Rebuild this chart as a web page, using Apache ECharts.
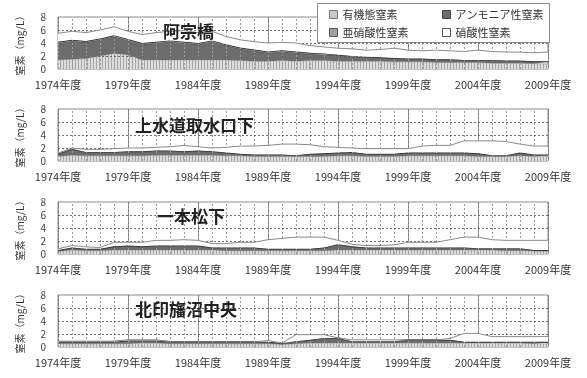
<!DOCTYPE html>
<html><head><meta charset="utf-8">
<script src="https://cdn.jsdelivr.net/npm/echarts@6/dist/echarts.min.js"></script>
<style>html,body{margin:0;padding:0;background:#fff}#c{width:587px;height:378px}</style>
</head><body><div id="c"></div>
<script>
var years = [];
for (var y = 1974; y <= 2009; y++) years.push(y + '年度');
var seriesNames = ['有機態窒素', 'アンモニア性窒素', '亜硝酸性窒素', '硝酸性窒素'];
var panelTitles = ['阿宗橋', '上水道取水口下', '一本松下', '北印旛沼中央'];

// Panel 1 阿宗橋
var org1 = [1.4,1.5,1.6,2.0,2.4,2.2,1.4,1.4,1.4,1.4,1.4,1.4,1.4,1.3,1.2,1.2,1.3,1.2,1.3,1.3,1.2,1.2,1.2,1.2,1.1,1.1,1.1,1.0,1.0,1.0,1.0,0.9,0.9,0.9,0.8,0.8];
var nh41 = [2.6,2.8,2.5,2.5,2.6,2.2,2.4,2.6,2.8,2.6,2.4,2.8,2.2,1.8,1.6,1.3,1.4,1.3,1.0,0.9,0.9,0.7,0.6,0.5,0.5,0.4,0.4,0.4,0.4,0.3,0.3,0.4,0.3,0.3,0.3,0.3];
var no21 = [0.2,0.2,0.2,0.2,0.2,0.2,0.2,0.2,0.2,0.2,0.2,0.2,0.2,0.2,0.2,0.2,0.2,0.2,0.2,0.2,0.1,0.1,0.1,0.1,0.1,0.1,0.1,0.1,0.1,0.1,0.1,0.1,0.1,0.1,0.1,0.1];
var no31 = [1.3,1.3,1.3,1.3,1.3,1.2,1.3,1.4,1.4,1.7,1.6,1.4,1.2,1.2,1.2,1.3,1.2,1.3,1.1,1.0,1.0,1.1,1.0,1.2,1.5,1.3,1.2,1.4,1.3,1.3,1.5,1.3,1.3,1.3,1.3,1.4];

// Panel 2 上水道取水口下
var org2 = [0.7,0.9,0.8,0.8,0.8,0.8,0.8,0.9,0.9,0.9,0.9,0.9,0.8,0.8,0.7,0.7,0.7,0.7,0.7,0.7,0.8,0.8,0.7,0.7,0.7,0.8,0.8,0.8,0.8,0.8,0.7,0.7,0.7,0.8,0.7,0.7];
var nh42 = [0.3,0.9,0.5,0.5,0.5,0.6,0.6,0.6,0.6,0.5,0.6,0.5,0.4,0.2,0.2,0.2,0.2,0.1,0.3,0.4,0.4,0.5,0.3,0.3,0.3,0.4,0.4,0.4,0.4,0.4,0.4,0.1,0.1,0.4,0.2,0.2];
var no22 = [0.1,0.1,0.1,0.1,0.1,0.1,0.1,0.1,0.1,0.1,0.1,0.1,0.1,0.1,0.1,0.1,0.1,0.1,0.1,0.1,0.1,0.1,0.1,0.1,0.1,0.1,0.1,0.1,0.1,0.1,0.1,0.1,0.1,0.1,0.1,0.1];
var no32 = [0.1,0.1,0.4,0.4,0.5,0.5,0.5,0.5,0.6,0.9,0.6,0.5,0.8,1.2,1.3,1.4,1.6,1.7,1.4,1.0,0.8,0.6,0.8,0.8,0.8,0.6,1.0,1.1,1.1,1.8,1.9,2.2,2.1,1.3,1.3,1.3];

// Panel 3 一本松下
var org3 = [0.4,0.6,0.5,0.5,0.6,0.6,0.6,0.6,0.6,0.6,0.6,0.6,0.5,0.5,0.5,0.5,0.5,0.5,0.5,0.5,0.6,0.6,0.6,0.6,0.6,0.6,0.6,0.6,0.6,0.6,0.6,0.6,0.5,0.5,0.5,0.5];
var nh43 = [0.1,0.3,0.2,0.2,0.5,0.6,0.5,0.6,0.6,0.6,0.6,0.3,0.4,0.4,0.4,0.2,0.2,0.2,0.2,0.4,0.8,0.5,0.3,0.3,0.3,0.3,0.3,0.3,0.3,0.3,0.2,0.2,0.3,0.3,0.0,0.0];
var no23 = [0.1,0.1,0.1,0.1,0.1,0.1,0.1,0.1,0.1,0.1,0.1,0.1,0.1,0.1,0.1,0.1,0.1,0.1,0.1,0.1,0.1,0.1,0.1,0.1,0.1,0.1,0.1,0.1,0.1,0.1,0.1,0.1,0.1,0.1,0.1,0.1];
var no33 = [0.2,0.3,0.3,0.2,0.6,0.5,0.6,0.8,0.8,0.9,0.8,0.6,0.6,0.8,0.8,1.4,1.6,1.8,1.8,1.6,0.6,0.3,0.3,0.3,0.4,0.8,0.8,0.8,1.2,1.6,1.7,1.3,1.2,1.2,1.5,1.5];

// Panel 4 北印旛沼中央
var org4 = [0.5,0.5,0.5,0.5,0.5,0.5,0.6,0.6,0.5,0.5,0.5,0.5,0.5,0.5,0.5,0.5,0.4,0.5,0.6,0.6,0.6,0.6,0.6,0.6,0.6,0.6,0.6,0.6,0.6,0.6,0.6,0.6,0.6,0.6,0.5,0.5];
var nh44 = [0.2,0.2,0.2,0.2,0.2,0.4,0.3,0.3,0.2,0.2,0.2,0.2,0.2,0.2,0.2,0.2,0.1,0.3,0.4,0.7,0.7,0.2,0.2,0.2,0.2,0.4,0.4,0.4,0.4,0.1,0.1,0.1,0.1,0.1,0.2,0.2];
var no24 = [0.1,0.1,0.1,0.1,0.1,0.1,0.1,0.1,0.1,0.1,0.1,0.1,0.1,0.1,0.1,0.1,0.1,0.1,0.1,0.1,0.1,0.1,0.1,0.1,0.1,0.1,0.1,0.1,0.1,0.1,0.1,0.1,0.1,0.1,0.1,0.1];
var no34 = [0.1,0.1,0.1,0.1,0.1,0.1,0.1,0.1,0.0,0.0,0.0,0.0,0.0,0.0,0.0,0.2,0.0,1.0,0.8,0.5,0.0,0.2,0.2,0.2,0.2,0.0,0.0,0.0,0.2,1.3,1.3,0.8,0.8,0.8,0.8,0.8];

var yMin = 0, yMax = 8, yStep = 2;
var yGridValues = [2, 4, 6];

var panels = [
  [org1, nh41, no21, no31],
  [org2, nh42, no22, no32],
  [org3, nh43, no23, no33],
  [org4, nh44, no24, no34]
];

function makePattern(bg, fg) {
  var cv = document.createElement('canvas');
  cv.width = 3; cv.height = 3;
  var ctx = cv.getContext('2d');
  ctx.fillStyle = bg; ctx.fillRect(0, 0, 3, 3);
  ctx.fillStyle = fg; ctx.fillRect(0, 0, 1, 3);
  return { image: cv, repeat: 'repeat' };
}
var orgFill = makePattern('#dcdcdc', '#a8a8a8');

var FONT = '"Noto Sans CJK JP", "DejaVu Sans", sans-serif';
var tops = [17, 109, 202, 295];
var titleLeft = [163, 135, 157, 135];
var titleTop = [23, 117, 208, 301];
var grids = [], xAxes = [], yAxes = [], series = [], graphics = [];

var styles = [
  { area: orgFill, line: { color: '#9a9a9a', width: 0.6 } },
  { area: '#6c6c6c', line: { color: '#444', width: 0.8 } },
  { area: '#a0a0a0', line: { color: '#222', width: 1.4 } },
  { area: '#ffffff', line: { color: '#8a8a8a', width: 1 } }
];

var gridMarkData = years.map(function (yr) { return { xAxis: yr, lineStyle: { color: '#9a9a9a', type: [2, 2], width: 1 } }; })
  .concat(yGridValues.map(function (v) { return { yAxis: v, lineStyle: { color: '#707070', type: [2, 2], width: 1 } }; }));

panels.forEach(function (p, gi) {
  grids.push({ left: 58, width: 490, top: tops[gi], height: 52, show: true, borderColor: '#8a8a8a', borderWidth: 1 });
  xAxes.push({
    type: 'category', gridIndex: gi, data: years, boundaryGap: false,
    axisLine: { show: false }, axisTick: { show: false },
    splitLine: { show: true, interval: 4, lineStyle: { color: '#7a7a7a', width: 1 } },
    axisLabel: { interval: 4, margin: 10, fontSize: 11, color: '#333', fontFamily: FONT, showMaxLabel: true }
  });
  yAxes.push({
    type: 'value', gridIndex: gi, min: yMin, max: yMax, interval: yStep,
    axisLine: { show: false }, axisTick: { show: false },
    splitLine: { show: false },
    axisLabel: { margin: 12, fontSize: 10, color: '#444', fontFamily: FONT },
    name: '窒素（mg/L）', nameLocation: 'middle', nameRotate: 90, nameGap: 33,
    nameTextStyle: { fontSize: 10, color: '#333', fontFamily: FONT }
  });
  series.push({
    type: 'line', name: 'grid' + gi, xAxisIndex: gi, yAxisIndex: gi, data: [], silent: true, z: 1,
    markLine: { silent: true, symbol: ['none', 'none'], label: { show: false }, animation: false, data: gridMarkData }
  });
  p.forEach(function (arr, si) {
    series.push({
      type: 'line', name: seriesNames[si], xAxisIndex: gi, yAxisIndex: gi,
      stack: 'p' + gi, symbol: 'none', silent: true, z: 2 + si,
      data: arr,
      lineStyle: styles[si].line,
      itemStyle: { color: styles[si].line.color },
      areaStyle: { color: styles[si].area, opacity: 1 }
    });
  });
  graphics.push({
    type: 'text', left: titleLeft[gi], top: titleTop[gi], z: 100,
    style: { text: panelTitles[gi], font: 'bold 17px ' + FONT, fill: '#222' }
  });
});

graphics.push({ type: 'rect', left: 317, top: 3, z: 90,
  shape: { width: 232, height: 39 },
  style: { fill: '#fff', stroke: '#8a8a8a', lineWidth: 1 } });

var legendIcons = [
  { color: '#c8c8c8', borderColor: '#777', borderWidth: 1 },
  { color: '#6c6c6c', borderColor: '#444', borderWidth: 1 },
  { color: '#a0a0a0', borderColor: '#555', borderWidth: 1 },
  { color: '#ffffff', borderColor: '#555', borderWidth: 1 }
];
function legendData(idx) {
  return idx.map(function (i) { return { name: seriesNames[i], icon: 'rect', itemStyle: legendIcons[i] }; });
}
var legendCommon = { orient: 'vertical', itemWidth: 8, itemHeight: 8, itemGap: 7, z: 110, selectedMode: false,
  textStyle: { fontSize: 11, color: '#333', fontFamily: FONT }, padding: 0 };

var chart = echarts.init(document.getElementById('c'), null, { renderer: 'canvas' });
chart.setOption({
  animation: false,
  grid: grids, xAxis: xAxes, yAxis: yAxes, series: series,
  legend: [
    Object.assign({ left: 329, top: 9, data: legendData([0, 2]) }, legendCommon),
    Object.assign({ left: 442, top: 9, data: legendData([1, 3]) }, legendCommon)
  ],
  graphic: graphics
});
</script></body></html>
